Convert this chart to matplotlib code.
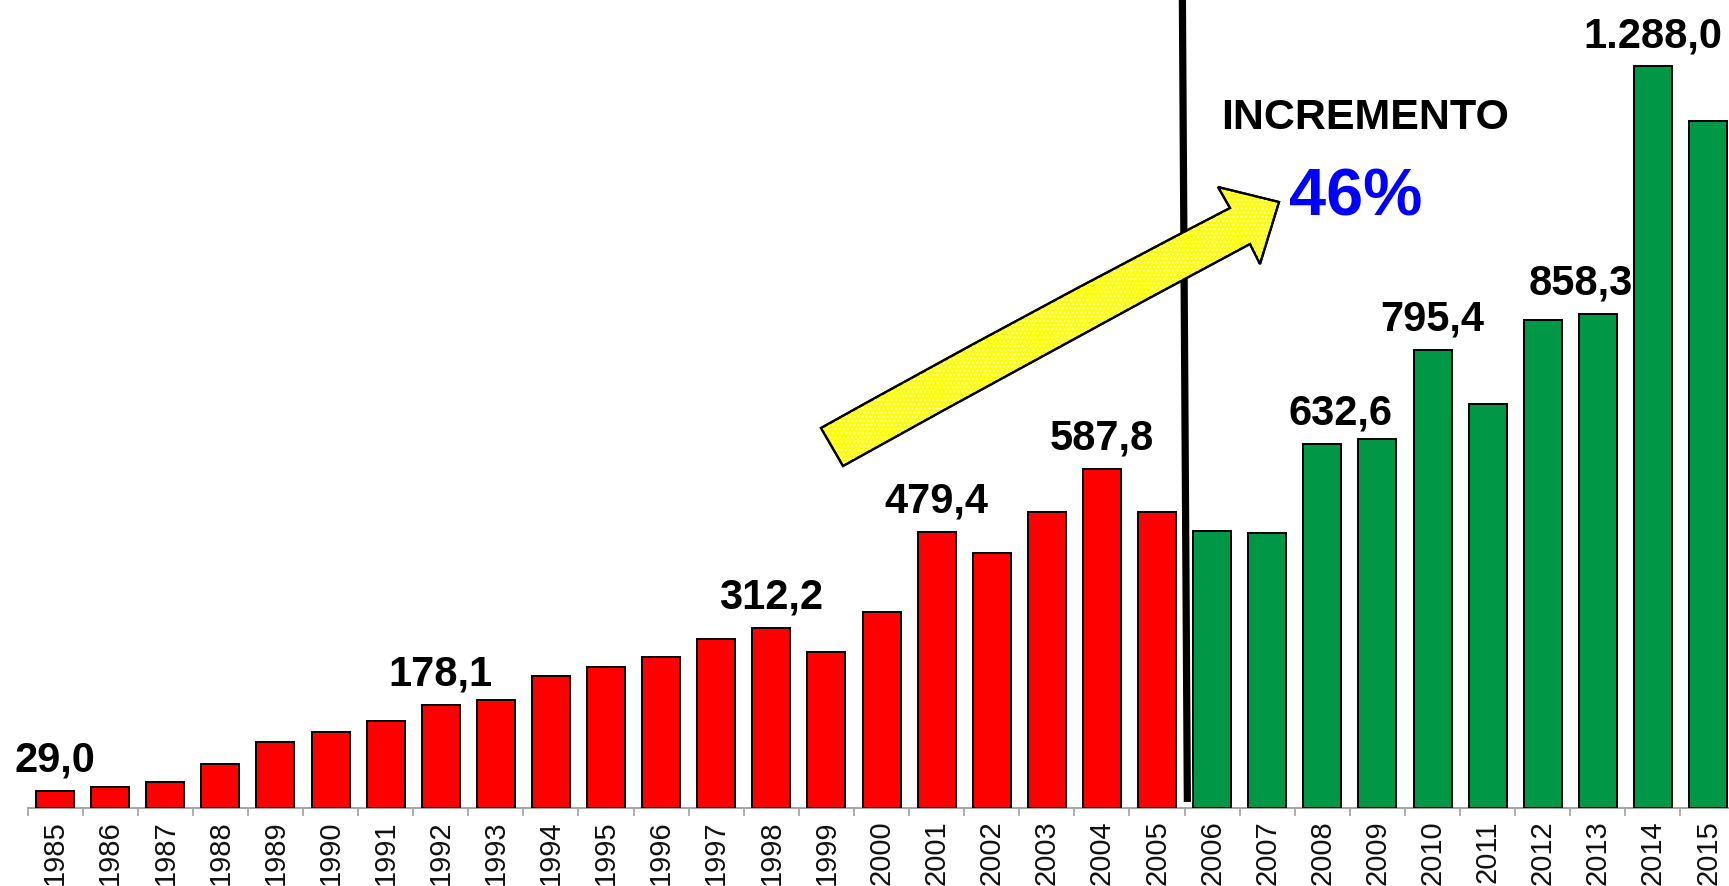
import matplotlib
matplotlib.use("Agg")
import matplotlib.pyplot as plt
import matplotlib.patheffects as pe
from matplotlib.path import Path
from matplotlib.patches import PathPatch
from matplotlib.transforms import Affine2D

plt.rcParams["font.family"] = ["Liberation Sans", "DejaVu Sans"]

# ---------------------------------------------------------------------------
# Data
# ---------------------------------------------------------------------------
years = list(range(1985, 2016))
values = [29.0, 36, 44, 76, 114, 131, 150, 178.1, 187, 229,
          244, 261, 294, 312.2, 271, 340, 479.4, 443, 514, 587.8,
          514, 480, 477, 632.6, 641, 795.4, 701, 848, 858.3, 1288.0,
          1193]
split_year = 2005          # red up to here, green after
labelled = {1985: "29,0", 1992: "178,1", 1998: "312,2", 2001: "479,4",
            2004: "587,8", 2008: "632,6", 2010: "795,4", 2013: "858,3",
            2014: "1.288,0"}
label_shift = {2008: 13, 2013: -12}     # points, sideways nudge
headline = "INCREMENTO"
headline_pct = "46%"

RED = "#FF0000"
GREEN = "#009846"

W, H = 1729, 886
fig = plt.figure(figsize=(W / 100, H / 100), dpi=100, facecolor="white")
ax = fig.add_axes([27.5 / W, 78.3 / H, 31 * 55.1 / W, 807.7 / H])

x = list(range(len(years)))
colors = [RED if y <= split_year else GREEN for y in years]
ax.bar(x, values, width=0.69, color=colors, edgecolor="black", linewidth=1.4, zorder=3)

ax.set_xlim(-0.5, len(years) - 0.5)
ax.set_ylim(0, 1403.5)

for s in ("top", "left", "right"):
    ax.spines[s].set_visible(False)
ax.spines["bottom"].set_color("#A6A6A6")
ax.spines["bottom"].set_linewidth(1.5)
ax.set_yticks([])
ax.set_xticks(x)
ax.set_xticklabels([str(y) for y in years], rotation=90, fontsize=21, color="#111111")
ax.set_xticks([i - 0.5 for i in range(len(years) + 1)], minor=True)
ax.tick_params(axis="x", which="major", length=0, pad=9)
ax.tick_params(axis="x", which="minor", length=6, width=1.3, color="#A6A6A6")

# value labels
for i, y in enumerate(years):
    if y in labelled:
        ax.annotate(labelled[y], xy=(i, values[i]),
                    xytext=(label_shift.get(y, 0), 14), textcoords="offset points",
                    ha="center", va="baseline", fontsize=30, fontweight="bold",
                    color="black", zorder=5)

# divider between periods
xi = years.index(split_year) + 0.5
ax.plot([xi - 0.04, xi + 0.05], [1403.5, 10], color="black", lw=5.2,
        solid_capstyle="butt", clip_on=False, zorder=4,
        path_effects=[pe.Stroke(linewidth=7, foreground="white"), pe.Normal()])

# yellow block arrow (figure pixel coords, y down)
px = Affine2D().scale(1 / W, -1 / H).translate(0, 1) + fig.transFigure
verts = [(821, 428), (1025, 314), (1230, 208), (1218, 187), (1279, 202),
         (1260, 264), (1250, 244), (1046, 353), (843, 466), (821, 428)]
codes = [Path.MOVETO, Path.CURVE3, Path.CURVE3, Path.LINETO, Path.LINETO,
         Path.LINETO, Path.LINETO, Path.CURVE3, Path.CURVE3, Path.CLOSEPOLY]
arrow = Path(verts, codes)
fig.patches.append(PathPatch(arrow, facecolor="#FFFF00", edgecolor="black",
                             lw=1.6, transform=px, zorder=6))
fig.patches.append(PathPatch(arrow, facecolor="none", edgecolor="#FFFFC8",
                             lw=0, hatch="....", transform=px, zorder=7))
fig.patches.append(PathPatch(arrow, facecolor="none", edgecolor="black",
                             lw=1.6, transform=px, zorder=8))

fig.text(1364.6 / W, 1 - 118 / H, headline, ha="center", va="center",
         fontsize=31, fontweight="bold", color="black")
fig.text(1356 / W, 1 - 198.5 / H, headline_pct, ha="center", va="center",
         fontsize=48, fontweight="bold", color="#0000FF")

fig.savefig("out.png", dpi=100, facecolor="white")
